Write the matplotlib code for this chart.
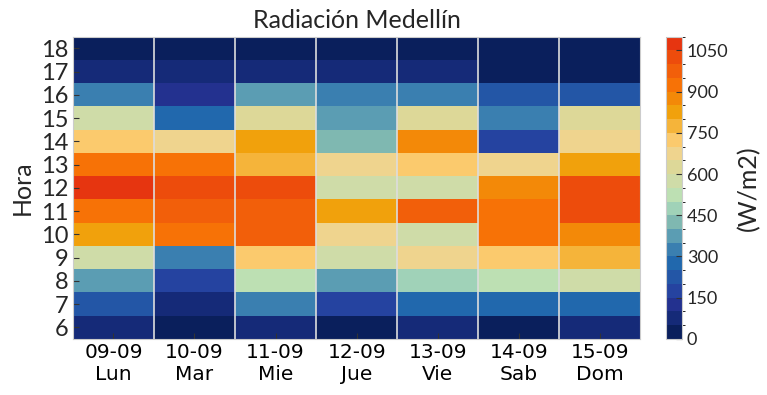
import numpy as np
import matplotlib
matplotlib.use("Agg")
from matplotlib import pyplot as plt
from matplotlib.colors import ListedColormap, BoundaryNorm

fechas = ["09-09", "10-09", "11-09", "12-09", "13-09", "14-09", "15-09"]
dias = ["Lun", "Mar", "Mie", "Jue", "Vie", "Sab", "Dom"]
horas = [6, 7, 8, 9, 10, 11, 12, 13, 14, 15, 16, 17, 18]

# radiacion (W/m2) por hora, una lista por dia
lun = [80, 230, 370, 580, 820, 930, 1070, 920, 720, 570, 320, 70, 20]
mar = [30, 80, 180, 330, 930, 980, 1030, 930, 680, 280, 140, 75, 15]
mie = [70, 320, 530, 730, 980, 990, 1020, 770, 830, 620, 380, 70, 20]
jue = [30, 190, 380, 580, 680, 820, 570, 670, 420, 370, 330, 70, 20]
vie = [80, 270, 470, 670, 560, 970, 570, 720, 870, 630, 330, 70, 20]
sab = [30, 280, 520, 730, 930, 920, 880, 670, 170, 320, 230, 20, 10]
dom = [70, 280, 570, 770, 880, 1020, 1030, 820, 690, 620, 240, 20, 10]

colores = ["#0a1f5c", "#152a78", "#23318f", "#2543a0", "#2356a6", "#2168ad",
           "#3a7fb0", "#5b9db3", "#7fb8b1", "#a0d2b8", "#bde0b3", "#cfdca8",
           "#ddd898", "#efd48e", "#fbca6d", "#f5b43a", "#f1a10c", "#f38908",
           "#f77206", "#f25f0a", "#ed4c0c", "#e63510"]

data = np.array([lun, mar, mie, jue, vie, sab, dom]).T
cmap = ListedColormap(colores)
bounds = np.arange(0, 1101, 50)
norm = BoundaryNorm(bounds, cmap.N)

plt.rcParams["font.family"] = ["Lato", "DejaVu Sans"]
fig = plt.figure(figsize=(7.67, 3.95), dpi=100, facecolor="white")
ax = fig.add_axes([0.095, 0.142, 0.74, 0.765])
cax = fig.add_axes([0.868, 0.142, 0.021, 0.765])

xe = np.arange(len(dias) + 1)
ye = np.arange(horas[0] - 0.5, horas[-1] + 1.0, 1.0)
mesh = ax.pcolormesh(xe, ye, data, cmap=cmap, norm=norm)
ax.vlines(xe[1:-1], ye[0], ye[-1], color="#dddddd", linewidth=1.2)

ax.set_xlim(0, len(dias))
ax.set_ylim(ye[0], ye[-1])
ax.set_xticks(np.arange(len(dias)) + 0.5)
ax.set_xticklabels([f + "\n" + d for f, d in zip(fechas, dias)],
                   fontsize=14.5, family="DejaVu Sans", linespacing=1.2)
ax.set_yticks(horas)
ax.set_yticklabels([str(h) for h in horas], fontsize=17, color="#262626")
ax.tick_params(direction="in", length=4, color="#333333", pad=3)
ax.set_ylabel("Hora", fontsize=18, color="#262626", labelpad=5)
ax.set_title("Radiación Medellín", fontsize=18, color="#262626", pad=6)
for s in ax.spines.values():
    s.set_color("#cccccc")

cb = fig.colorbar(mesh, cax=cax, ticks=np.arange(0, 1051, 150))
cb.ax.tick_params(direction="in", length=4, color="#333333", labelsize=13,
                  labelcolor="#262626")
cb.outline.set_edgecolor("#cccccc")
cb.set_label("(W/m2)", fontsize=18, color="#262626", labelpad=6)

plt.savefig("out.png", dpi=100)
plt.close()
